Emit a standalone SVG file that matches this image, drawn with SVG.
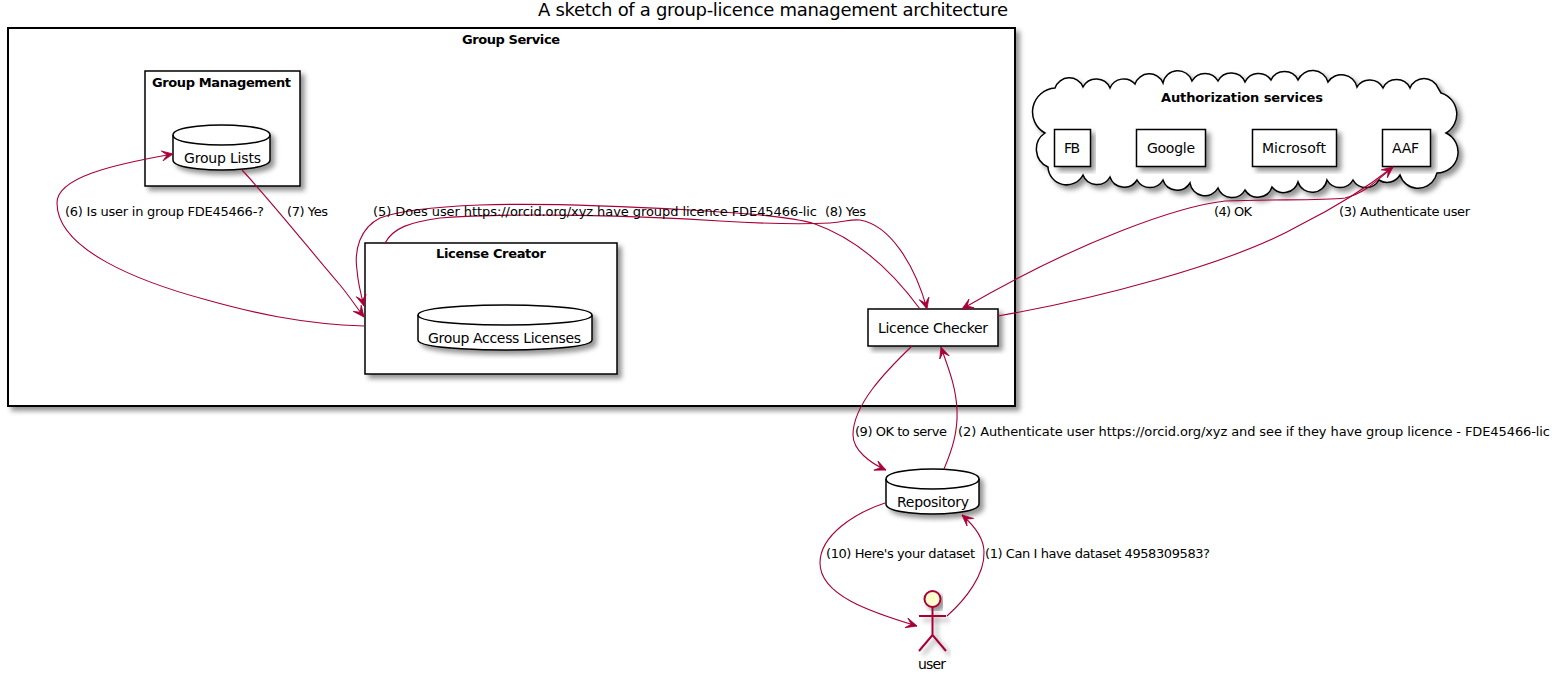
<svg xmlns="http://www.w3.org/2000/svg" width="1557" height="677" viewBox="0 0 1557 677">
<style>
text{font-family:"DejaVu Sans","Liberation Sans",sans-serif;font-size:13px;fill:#000;white-space:pre}
.b{font-weight:700}
.n{font-size:14px}
.title{font-size:18px}
.s{fill:#fff;stroke:#000;stroke-width:1.5;filter:url(#sh)}
.l{fill:none;stroke:#000;stroke-width:1.5}
.c{fill:none;stroke:#A80036;stroke-width:1.1;marker-end:url(#ah)}
.a{fill:none;stroke:#A80036;stroke-width:2}
</style>
<defs>
<filter id="sh" x="-10%" y="-10%" width="125%" height="130%"><feDropShadow dx="4" dy="4" stdDeviation="2.500" flood-color="#000" flood-opacity="0.42"/></filter>
<marker id="ah" markerUnits="userSpaceOnUse" markerWidth="15" markerHeight="13" refX="12" refY="6" orient="auto"><path d="M12,6 L1,1 L6,6 L1,11 Z" fill="#A80036" stroke="#A80036" stroke-width="0.8"/></marker>
</defs>
<rect width="1557" height="677" fill="#fff"/>
<text class="title" x="538" y="16" textLength="470">A sketch of a group-licence management architecture</text>
<g id="group-service">
<rect class="s" x="8" y="28" width="1007" height="378" style="stroke-width:2"/>
<text class="b" x="462" y="44" textLength="98">Group Service</text>
</g>
<g id="group-management">
<rect class="s" x="145" y="71" width="155" height="115"/>
<text class="b" x="152" y="87" textLength="139">Group Management</text>
</g>
<g id="group-lists">
<path class="s" d="M173,135 C173,125 221.500,125 221.500,125 C221.500,125 270,125 270,135 L270,160 C270,170 221.500,170 221.500,170 C221.500,170 173,170 173,160 Z"/>
<path class="l" d="M173,135 C173,145 221.500,145 221.500,145 C221.500,145 270,145 270,135"/>
<text class="n" x="184" y="163" textLength="77">Group Lists</text>
</g>
<g id="license-creator">
<rect class="s" x="365" y="243" width="252" height="131"/>
<text class="b" x="436" y="258" textLength="110">License Creator</text>
</g>
<g id="group-access-licenses">
<path class="s" d="M418,315 C418,305 505,305 505,305 C505,305 592,305 592,315 L592,340 C592,350 505,350 505,350 C505,350 418,350 418,340 Z"/>
<path class="l" d="M418,315 C418,325 505,325 505,325 C505,325 592,325 592,315"/>
<text class="n" x="428" y="343" textLength="153">Group Access Licenses</text>
</g>
<g id="licence-checker">
<rect class="s" x="868" y="309" width="130" height="37"/>
<text class="n" x="878" y="333" textLength="110">Licence Checker</text>
</g>
<g id="authorization-services">
<path class="s" d="M1055,88 A15 15 0 0 1 1083,87 A15 15 0 0 1 1110,88 A15 15 0 0 1 1135,84 A15 15 0 0 1 1163,83 A15 15 0 0 1 1192,81 A15 15 0 0 1 1218,81 A15 15 0 0 1 1245,82 A15 15 0 0 1 1271,80 A15 15 0 0 1 1298,80 A16 16 0 0 1 1328,82 A16 16 0 0 1 1357,87 A15 15 0 0 1 1383,88 A15 15 0 0 1 1410,88 A15 15 0 0 1 1438,88 L1441,93 A22 22 0 0 1 1446,133 A21 21 0 0 1 1437,173 L1435,178 A19 19 0 0 1 1400,175 A15 15 0 0 1 1379,180 A15 15 0 0 1 1353,180 A15 15 0 0 1 1327,180 A15 15 0 0 1 1298,182 A15 15 0 0 1 1272,187 A15 15 0 0 1 1245,190 A15 15 0 0 1 1218,188 A15 15 0 0 1 1190,183 A15 15 0 0 1 1163,180 A15 15 0 0 1 1137,180 A15 15 0 0 1 1110,177 A15 15 0 0 1 1083,175 A18.600 18.600 0 0 1 1048,167 A19.500 19.500 0 0 1 1045,133 A24 24 0 0 1 1055,88 Z"/>
<text class="b" x="1161" y="102" textLength="162">Authorization services</text>
</g>
<g id="fb">
<rect class="s" x="1054.500" y="129.500" width="36" height="37"/>
<text class="n" x="1064" y="153" textLength="16">FB</text>
</g>
<g id="google">
<rect class="s" x="1136.500" y="129.500" width="69" height="37"/>
<text class="n" x="1147" y="153" textLength="48">Google</text>
</g>
<g id="microsoft">
<rect class="s" x="1252.500" y="129.500" width="84" height="37"/>
<text class="n" x="1262" y="153" textLength="64">Microsoft</text>
</g>
<g id="aaf">
<rect class="s" x="1382.500" y="129.500" width="48" height="37"/>
<text class="n" x="1392" y="153" textLength="27">AAF</text>
</g>
<g id="repository">
<path class="s" d="M886,479 C886,469 932.500,469 932.500,469 C932.500,469 979,469 979,479 L979,504 C979,514 932.500,514 932.500,514 C932.500,514 886,514 886,504 Z"/>
<path class="l" d="M886,479 C886,489 932.500,489 932.500,489 C932.500,489 979,489 979,479"/>
<text class="n" x="897" y="507" textLength="72">Repository</text>
</g>
<g id="user">
<circle cx="932.500" cy="599" r="8" fill="#FEFECE" stroke="#A80036" stroke-width="2" filter="url(#sh)"/>
<path class="a" d="M932.500,607 V635 M919,616 H946 M932.500,635 L919,651 M932.500,635 L946,651" filter="url(#sh)"/>
<text class="n" x="918" y="669" textLength="28">user</text>
</g>
<g id="connectors">
<path class="c" d="M947,616 C965,600 985,575 984,552 C984,535 970,522 962,515"/>
<path class="c" d="M885,503 C855,513 820,535 820,563 C820,595 870,612 917,626"/>
<path class="c" d="M912,346 C885,372 853,405 853,435 C853,450 870,463 886,470"/>
<path class="c" d="M944,469 C952,450 958,432 957,410 C956,385 947,365 941,347"/>
<path class="c" d="M998,316 C1090,300 1230,265 1300,225 C1340,205 1370,185 1393,167"/>
<path class="c" d="M1393,167 C1375,182 1365,193 1345,198 C1320,201 1270,199 1225,201 C1180,206 1080,240 962,309"/>
<path class="c" d="M920,309 C895,275 860,240 815,224 C790,216 740,213 690,210 C620,206 540,203 480,205 C430,207 395,212 380,218 C360,228 354,250 357,270 C358,283 361,295 364,306"/>
<path class="c" d="M385,243 C393,228 410,222 440,218 C520,212 640,216 720,221 C770,224 810,224 830,223 C845,222 850,219 860,220 C890,225 915,265 927,309"/>
<path class="c" d="M242,170 C270,200 310,250 340,285 C350,297 357,308 364,317"/>
<path class="c" d="M364,326 C300,324 250,312 207,300 C140,282 57,250 57,203 C57,178 110,165 173,154"/>
<text x="65" y="216" textLength="199">(6) Is user in group FDE45466-?</text>
<text x="287" y="216" textLength="41">(7) Yes</text>
<text x="373" y="216" textLength="444">(5) Does user https://orcid.org/xyz have groupd licence FDE45466-lic</text>
<text x="825" y="216" textLength="41">(8) Yes</text>
<text x="1214" y="216" textLength="38">(4) OK</text>
<text x="1339" y="216" textLength="131">(3) Authenticate user</text>
<text x="855" y="436" textLength="92">(9) OK to serve</text>
<text x="958" y="436" textLength="592">(2) Authenticate user https://orcid.org/xyz and see if they have group licence - FDE45466-lic</text>
<text x="826" y="558" textLength="149">(10) Here's your dataset</text>
<text x="985" y="558" textLength="225">(1) Can I have dataset 4958309583?</text>
</g>
</svg>
